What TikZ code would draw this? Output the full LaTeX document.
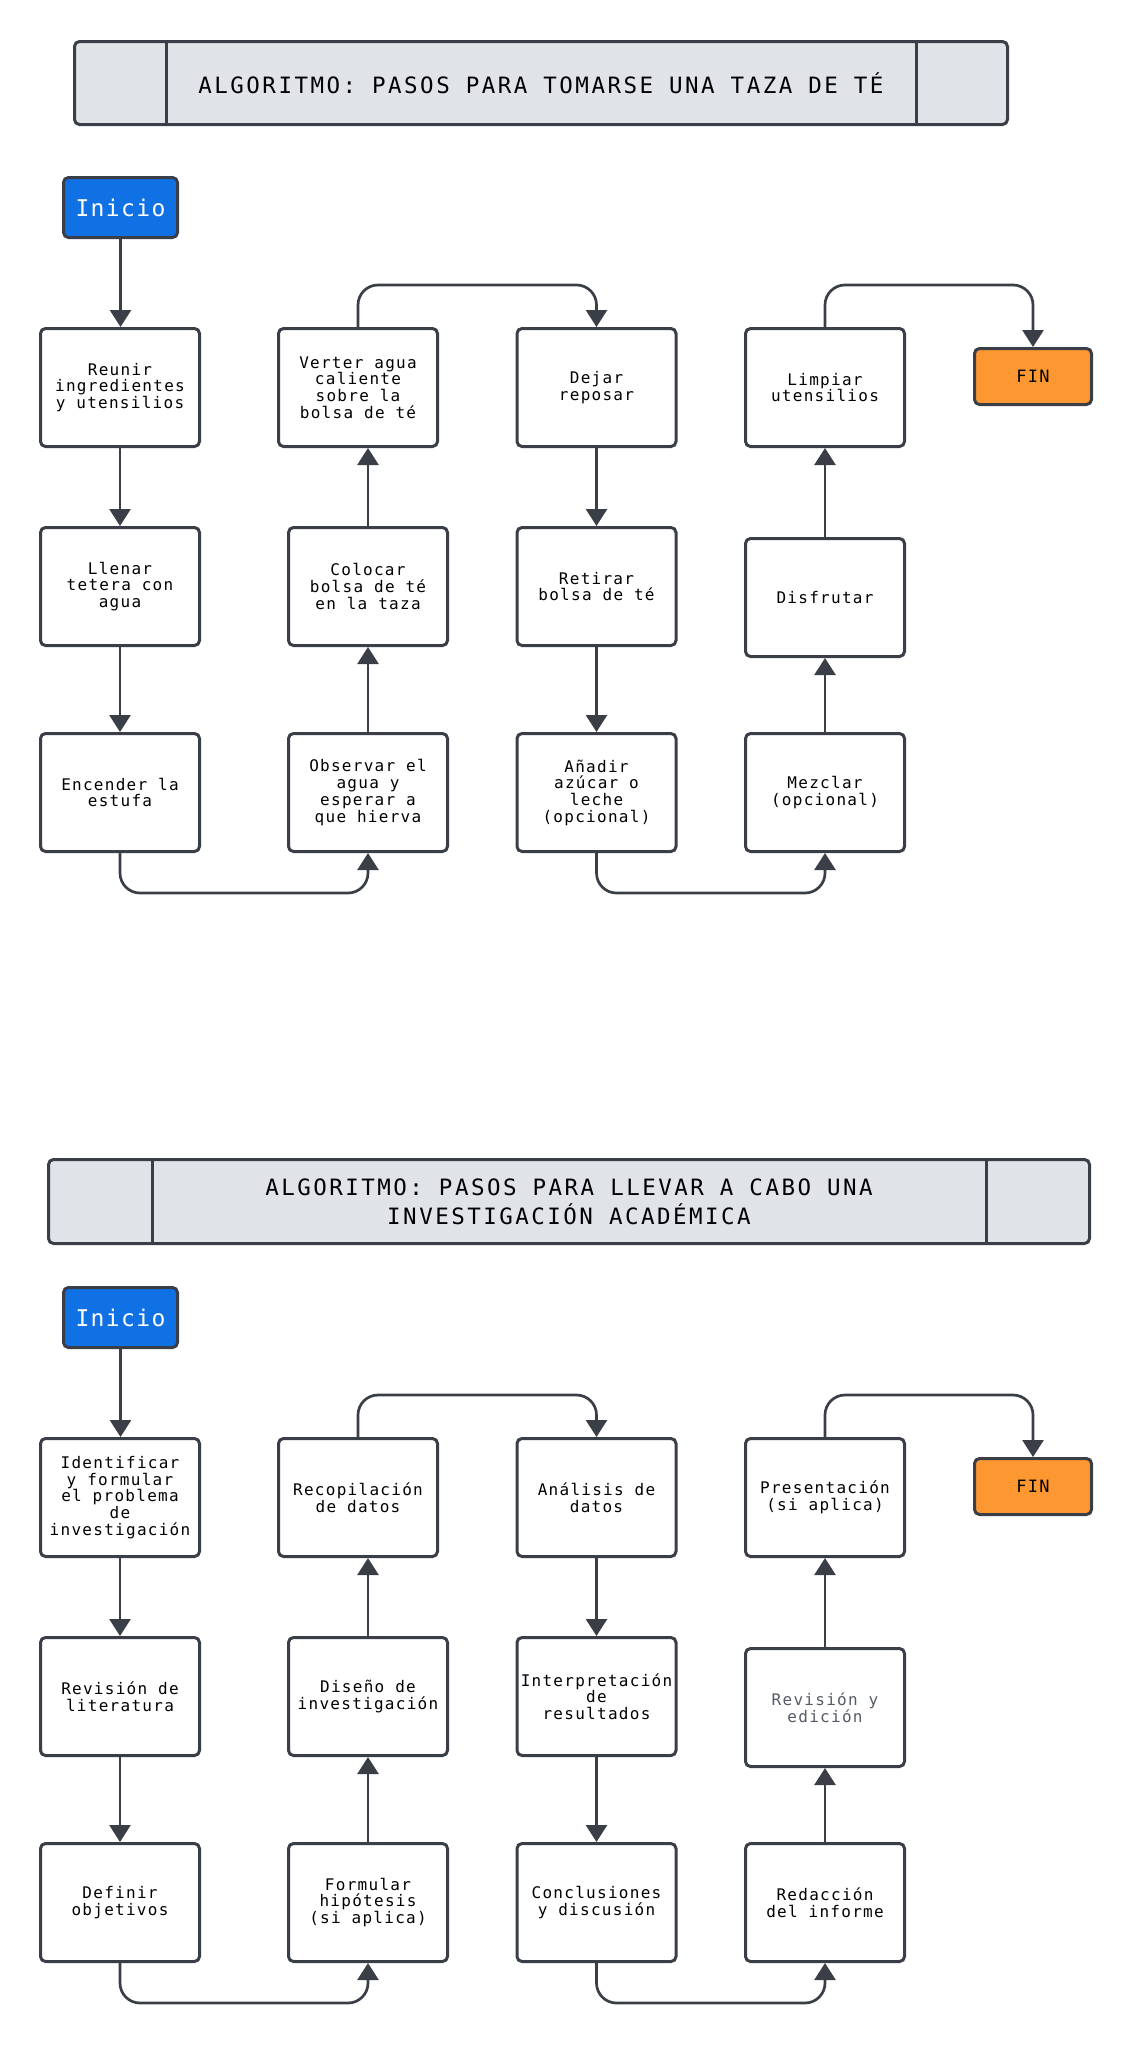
\documentclass[tikz,border=0pt]{standalone}
\usepackage{fontspec}
\setmainfont{DejaVu Sans Mono}
\newfontfamily\boxfont[LetterSpace=8]{DejaVu Sans Mono}
\newfontfamily\titlefont[LetterSpace=11]{DejaVu Sans Mono}
\newfontfamily\iniciofont[LetterSpace=6]{DejaVu Sans Mono}
\usetikzlibrary{arrows.meta}
\definecolor{edge}{HTML}{3A3F47}
\definecolor{titlefill}{HTML}{E0E3E8}
\definecolor{startblue}{HTML}{1071E5}
\definecolor{endorange}{HTML}{FD9731}
\definecolor{soft}{HTML}{555B64}
\begin{document}
\begin{tikzpicture}[x=1pt,y=-1pt,
  stepbox/.style={draw=edge, line width=3pt, fill=white, rounded corners=5pt,
    minimum width=159pt, minimum height=118pt, inner sep=0pt, align=center,
    text=black, font=\boxfont\fontsize{16}{16.7}\selectfont},
  titlebox/.style={draw=edge, line width=3pt, fill=titlefill, rounded corners=5pt,
    inner sep=0pt, align=center, text=black, font=\titlefont\fontsize{22.5}{28.7}\selectfont},
  startbox/.style={draw=edge, line width=3pt, fill=startblue, rounded corners=5pt,
    minimum width=114pt, minimum height=60pt, inner sep=0pt, text=white,
    font=\iniciofont\fontsize{23}{24}\selectfont},
  endbox/.style={draw=edge, line width=3pt, fill=endorange, rounded corners=5pt,
    minimum width=117pt, minimum height=56pt, inner sep=0pt, text=black,
    font=\boxfont\fontsize{17}{18}\selectfont},
  divider/.style={draw=edge, line width=3pt},
  conn/.style={draw=edge, line width=2.7pt, rounded corners=20pt,
    -{Triangle[width=21pt,length=17pt]}}
]
\useasboundingbox (0,0) rectangle (1132,2045);

% ================= PART 1 =================
\node[titlebox, minimum width=933pt, minimum height=83pt] (T1) at (541,83)
  {ALGORITMO: PASOS PARA TOMARSE UNA TAZA DE TÉ};
\draw[divider] ([xshift=93pt]T1.north west) -- ([xshift=93pt]T1.south west);
\draw[divider] ([xshift=-93pt]T1.north east) -- ([xshift=-93pt]T1.south east);

\node[startbox] (i1) at (120.5,207.5) {Inicio};

\node[stepbox] (r1) at (120,387.5) {Reunir\\ingredientes\\y utensilios};
\node[stepbox] (l1) at (120,586.5) {Llenar\\tetera con\\agua};
\node[stepbox] (e1) at (120,792.5) {Encender la\\estufa};

\node[stepbox] (v1) at (358,387.5) {Verter agua\\caliente\\sobre la\\bolsa de té};
\node[stepbox] (c1) at (368,586.5) {Colocar\\bolsa de té\\en la taza};
\node[stepbox] (o1) at (368,792.5) {Observar el\\agua y\\esperar a\\que hierva};

\node[stepbox] (d1) at (596.5,387.5) {Dejar\\reposar};
\node[stepbox] (t1) at (596.5,586.5) {Retirar\\bolsa de té};
\node[stepbox] (a1) at (596.5,792.5) {Añadir\\azúcar o\\leche\\(opcional)};

\node[stepbox] (u1) at (825,387.5) {Limpiar\\utensilios};
\node[stepbox] (f1) at (825,597.5) {Disfrutar};
\node[stepbox] (m1) at (825,792.5) {Mezclar\\(opcional)};

\node[endbox] (fin1) at (1033,376.5) {FIN};

\coordinate (top1) at (0,285);
\coordinate (bot1) at (0,893);

\draw[conn] (i1.south) -- (i1.south |- r1.north);
\draw[conn] (r1) -- (l1);
\draw[conn] (l1) -- (e1);
\draw[conn] (e1.south) -- (e1.south |- bot1) -- (o1.south |- bot1) -- (o1.south);
\draw[conn] (o1) -- (c1);
\draw[conn] (c1.north) -- (c1.north |- v1.south);
\draw[conn] (v1.north) -- (v1.north |- top1) -- (d1.north |- top1) -- (d1.north);
\draw[conn] (d1) -- (t1);
\draw[conn] (t1) -- (a1);
\draw[conn] (a1.south) -- (a1.south |- bot1) -- (m1.south |- bot1) -- (m1.south);
\draw[conn] (m1) -- (f1);
\draw[conn] (f1) -- (u1);
\draw[conn] (u1.north) -- (u1.north |- top1) -- (fin1.north |- top1) -- (fin1.north);

% ================= PART 2 =================
\node[titlebox, minimum width=1041pt, minimum height=84pt] (T2) at (569,1201.5)
  {ALGORITMO: PASOS PARA LLEVAR A CABO UNA\\INVESTIGACIÓN ACADÉMICA};
\draw[divider] ([xshift=105pt]T2.north west) -- ([xshift=105pt]T2.south west);
\draw[divider] ([xshift=-105pt]T2.north east) -- ([xshift=-105pt]T2.south east);

\node[startbox] (i2) at (120.5,1317.5) {Inicio};

\node[stepbox] (r2) at (120,1497.5) {Identificar\\y formular\\el problema\\de\\investigación};
\node[stepbox] (l2) at (120,1696.5) {Revisión de\\literatura};
\node[stepbox] (e2) at (120,1902.5) {Definir\\objetivos};

\node[stepbox] (v2) at (358,1497.5) {Recopilación\\de datos};
\node[stepbox] (c2) at (368,1696.5) {Diseño de\\investigación};
\node[stepbox] (o2) at (368,1902.5) {Formular\\hipótesis\\(si aplica)};

\node[stepbox] (d2) at (596.5,1497.5) {Análisis de\\datos};
\node[stepbox] (t2) at (596.5,1696.5) {Interpretación\\de\\resultados};
\node[stepbox] (a2) at (596.5,1902.5) {Conclusiones\\y discusión};

\node[stepbox] (u2) at (825,1497.5) {Presentación\\(si aplica)};
\node[stepbox, text=soft] (f2) at (825,1707.5) {Revisión y\\edición};
\node[stepbox] (m2) at (825,1902.5) {Redacción\\del informe};

\node[endbox] (fin2) at (1033,1486.5) {FIN};

\coordinate (top2) at (0,1395);
\coordinate (bot2) at (0,2003);

\draw[conn] (i2.south) -- (i2.south |- r2.north);
\draw[conn] (r2) -- (l2);
\draw[conn] (l2) -- (e2);
\draw[conn] (e2.south) -- (e2.south |- bot2) -- (o2.south |- bot2) -- (o2.south);
\draw[conn] (o2) -- (c2);
\draw[conn] (c2.north) -- (c2.north |- v2.south);
\draw[conn] (v2.north) -- (v2.north |- top2) -- (d2.north |- top2) -- (d2.north);
\draw[conn] (d2) -- (t2);
\draw[conn] (t2) -- (a2);
\draw[conn] (a2.south) -- (a2.south |- bot2) -- (m2.south |- bot2) -- (m2.south);
\draw[conn] (m2) -- (f2);
\draw[conn] (f2) -- (u2);
\draw[conn] (u2.north) -- (u2.north |- top2) -- (fin2.north |- top2) -- (fin2.north);
\end{tikzpicture}
\end{document}
